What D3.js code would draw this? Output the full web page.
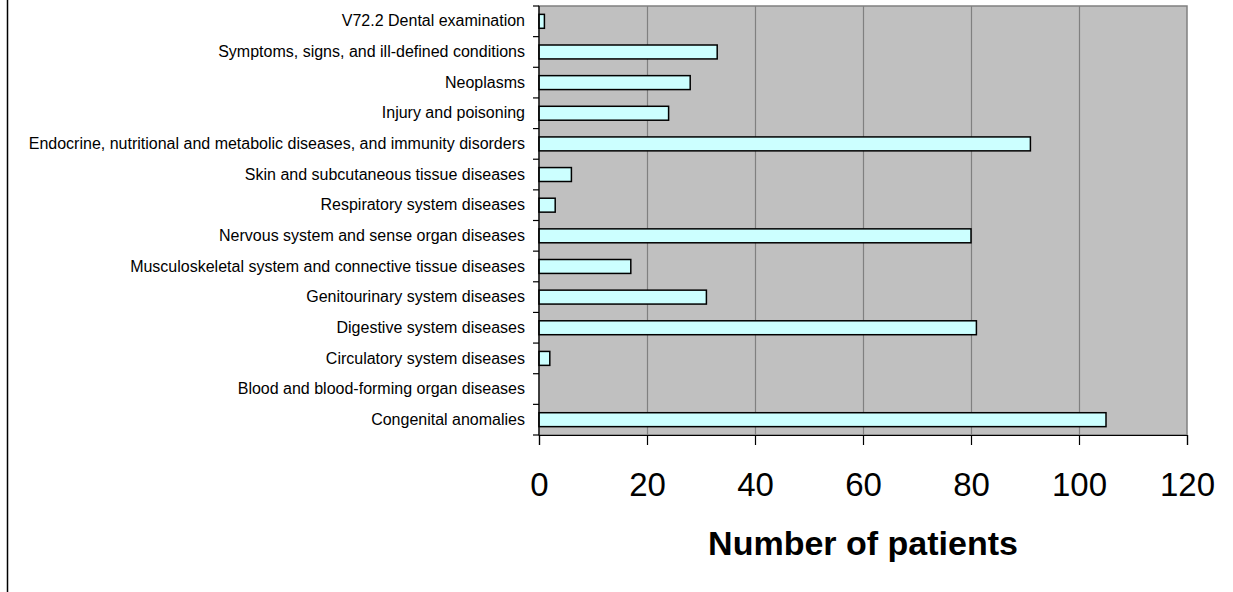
<!DOCTYPE html>
<html>
<head>
<meta charset="utf-8">
<script src="https://cdn.jsdelivr.net/npm/d3@7"></script>
<style>
  body { margin: 0; background: #fff; }
  svg { display: block; font-family: "Liberation Sans", Arial, sans-serif; }
</style>
</head>
<body>
<div id="chart"></div>
<script>
// Categories, top to bottom as shown
const categories = [
  'V72.2 Dental examination',
  'Symptoms, signs, and ill-defined conditions',
  'Neoplasms',
  'Injury and poisoning',
  'Endocrine, nutritional and metabolic diseases, and immunity disorders',
  'Skin and subcutaneous tissue diseases',
  'Respiratory system diseases',
  'Nervous system and sense organ diseases',
  'Musculoskeletal system and connective tissue diseases',
  'Genitourinary system diseases',
  'Digestive system diseases',
  'Circulatory system diseases',
  'Blood and blood-forming organ diseases',
  'Congenital anomalies'
];
const patients = [1, 33, 28, 24, 91, 6, 3, 80, 17, 31, 81, 2, 0, 105];
const xTicks = [0, 20, 40, 60, 80, 100, 120];
const xTitle = 'Number of patients';

const W = 1233, H = 592;
const margin = { top: 6, right: 46, bottom: 157, left: 539 };
const width = W - margin.left - margin.right;
const height = H - margin.top - margin.bottom;

const data = categories.map((c, i) => ({ cat: c, value: patients[i] }));

const svg = d3.select('#chart').append('svg')
  .attr('width', W)
  .attr('height', H);

// chart area border (only the left edge is in view)
svg.append('line')
  .attr('x1', 7.5).attr('x2', 7.5)
  .attr('y1', 0).attr('y2', H)
  .attr('stroke', '#000')
  .attr('stroke-width', 1.5);

const g = svg.append('g')
  .attr('transform', `translate(${margin.left},${margin.top})`);

const x = d3.scaleLinear().domain([0, 120]).range([0, width]);
const y = d3.scaleBand().domain(categories).range([0, height]).padding(0);

// plot area
g.append('rect')
  .attr('width', width)
  .attr('height', height)
  .attr('fill', '#c0c0c0')
  .attr('stroke', '#808080')
  .attr('stroke-width', 1.5);

// gridlines
g.append('g')
  .call(d3.axisBottom(x).tickValues(xTicks.slice(1, -1)).tickSize(height).tickFormat(''))
  .call(s => s.select('.domain').remove())
  .selectAll('line')
  .attr('stroke', '#808080')
  .attr('stroke-width', 1.2);

// bars
const barH = y.bandwidth() / 2.2;
g.selectAll('.bar')
  .data(data.filter(d => d.value > 0))
  .enter()
  .append('rect')
  .attr('class', 'bar')
  .attr('x', x(0))
  .attr('y', d => y(d.cat) + (y.bandwidth() - barH) / 2)
  .attr('width', d => x(d.value))
  .attr('height', barH)
  .attr('fill', '#ccffff')
  .attr('stroke', '#000')
  .attr('stroke-width', 1.5);

// left axis: labels
g.append('g')
  .call(d3.axisLeft(y).tickSize(0).tickPadding(14))
  .call(s => s.select('.domain').remove())
  .selectAll('text')
  .style('font-size', '16px')
  .attr('fill', '#000');

// left axis: category boundary ticks + line
const bounds = categories.map(c => y(c)).concat([height]);
g.selectAll('.ctick')
  .data(bounds)
  .enter()
  .append('line')
  .attr('x1', -6).attr('x2', 0)
  .attr('y1', d => d).attr('y2', d => d)
  .attr('stroke', '#000')
  .attr('stroke-width', 1.2);
g.append('line')
  .attr('x1', 0).attr('x2', 0)
  .attr('y1', 0).attr('y2', height)
  .attr('stroke', '#000')
  .attr('stroke-width', 1.2);

// bottom axis
const xAxis = g.append('g')
  .attr('transform', `translate(0,${height})`)
  .call(d3.axisBottom(x).tickValues(xTicks).tickSize(10).tickPadding(28));
xAxis.select('.domain').attr('stroke', '#000').attr('stroke-width', 1.2);
xAxis.selectAll('line').attr('stroke', '#000').attr('stroke-width', 1.2);
xAxis.selectAll('text')
  .style('font-size', '33px')
  .attr('fill', '#000');

// axis title
g.append('text')
  .attr('x', x(60))
  .attr('y', height + 120)
  .attr('text-anchor', 'middle')
  .style('font-size', '34px')
  .style('font-weight', 'bold')
  .text(xTitle);
</script>
</body>
</html>
